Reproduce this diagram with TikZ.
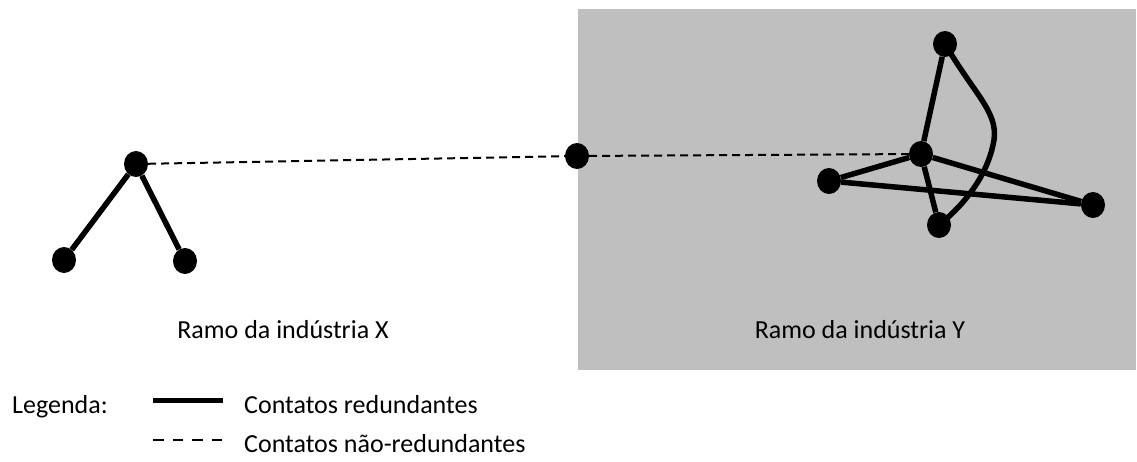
\documentclass[tikz,border=0pt]{standalone}
\usepackage{fontspec}
\setmainfont{Carlito}
\usetikzlibrary{shapes.geometric}
\definecolor{panelgray}{RGB}{191,191,191}
\tikzset{
  actor/.style={ellipse, fill=black, draw=none, minimum width=24pt, minimum height=26pt, inner sep=0pt},
  redund/.style={line width=5.5pt, black},
  nonred/.style={line width=2pt, black, dash pattern=on 8pt off 5pt},
  lbl/.style={font=\fontsize{26}{30}\selectfont, inner sep=0pt}
}
\begin{document}
\begin{tikzpicture}[x=1pt, y=-1pt]
\useasboundingbox (0,0) rectangle (1137,461);
% panel
\fill[panelgray] (577.5,9) rectangle (1136,370);
% nodes
\node[actor] (xa) at (136,164) {};
\node[actor] (xb) at (64,260) {};
\node[actor] (xc) at (185,261) {};
\node[actor] (m) at (577,156) {};
\node[actor] (yc) at (921,154) {};
\node[actor] (yt) at (945,44) {};
\node[actor] (yl) at (829,181) {};
\node[actor] (yb) at (939,225) {};
\node[actor] (yr) at (1093,205) {};
% redundant contacts
\draw[redund] (xa) -- (xb);
\draw[redund] (xa) -- (xc);
\draw[redund] (yt) -- (yc);
\draw[redund] (yc) -- (yb);
\draw[redund] (yc) -- (yl);
\draw[redund] (yc) -- (yr);
\draw[redund] (yl) -- (yr);
\coordinate (cv) at (994,140);
\draw[redund, line cap=round, line join=round] (yt.center)
  .. controls (975,95) and (998,112) .. (cv)
  .. controls (989,170) and (970,200) .. (yb.center);
% non-redundant contacts
\draw[nonred] (xa) -- (m);
\draw[nonred] (m) -- (yc);
% labels
\node[lbl, anchor=base] (lx) at (283,338) {Ramo da indústria X};
\node[lbl, anchor=base] (ly) at (860,338) {Ramo da indústria Y};
% legend
\node[lbl, anchor=base west] (leg) at (12,413) {Legenda:};
\coordinate (s1) at (153,400);
\coordinate (s2) at (223,400);
\coordinate (d1) at (153,440);
\coordinate (d2) at (223,440);
\draw[line width=5pt] (s1) -- (s2);
\draw[line width=2.5pt, dash pattern=on 10.5pt off 9pt] (d1) -- (d2);
\node[lbl, anchor=base west] (t1) at (244,413) {Contatos redundantes};
\node[lbl, anchor=base west] (t2) at (244,452) {Contatos não-redundantes};
\end{tikzpicture}
\end{document}
